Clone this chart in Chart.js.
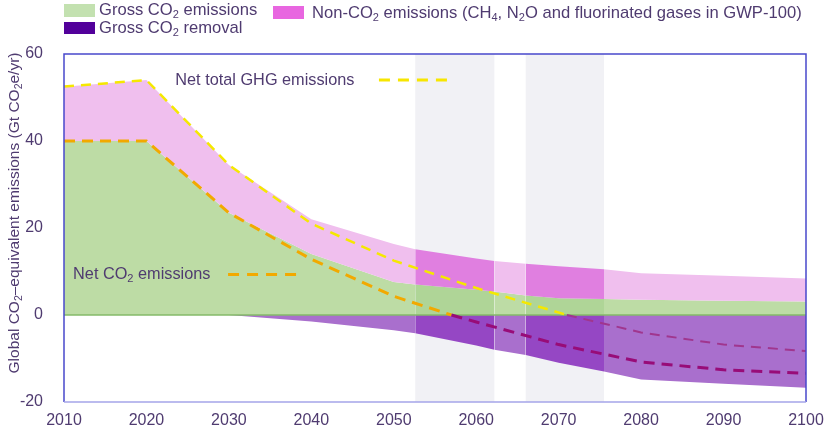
<!DOCTYPE html>
<html>
<head>
<meta charset="utf-8">
<script src="https://cdn.jsdelivr.net/npm/chart.js@4.4.1/dist/chart.umd.min.js"></script>
<style>
  body { margin: 0; background: #fff; font-family: 'Liberation Sans', Arial, sans-serif; }
  #wrap { position: relative; width: 832px; height: 428px; }
  .key { position: absolute; color: #4f3b70; font-size: 16.6px; line-height: 18px; white-space: nowrap; }
  .key i { position: absolute; left: -35px; width: 31px; height: 13px; }
  .key sub { font-size: 11px; vertical-align: -3px; line-height: 0; }
</style>
</head>
<body>
<div id="wrap">
  <canvas id="chart" width="832" height="428"></canvas>
  <div class="key" style="left:99px;top:1px"><i style="top:3px;background:#c3e1b0"></i>Gross CO<sub>2</sub> emissions</div>
  <div class="key" style="left:99px;top:19px"><i style="top:3px;height:12px;background:#52009a"></i>Gross CO<sub>2</sub> removal</div>
  <div class="key" style="left:312px;top:4px"><i style="left:-39px;top:2px;background:#e866e0"></i>Non-CO<sub>2</sub> emissions (CH<sub>4</sub>, N<sub>2</sub>O and fluorinated gases in GWP-100)</div>
</div>
<script>
// area series share one year axis (band edges included)
var years = [2010, 2020, 2030, 2040, 2050, 2052.6, 2060, 2062.2, 2066, 2070, 2075.5, 2080, 2090, 2100];
var grossCO2 = [40, 40, 23.5, 14, 7.6, 7.0, 5.8, 5.4, 4.5, 3.85, 3.7, 3.5, 3.3, 3.1];
var grossTotal = [52.5, 54, 34.5, 22, 16.3, 15.1, 13.0, 12.4, 11.8, 11.2, 10.5, 9.6, 9.0, 8.4];
var removal = [0, 0, 0, -1.5, -3.5, -4.2, -7.0, -8.0, -9.2, -11.0, -13.0, -14.8, -15.8, -16.7];

var netCO2Years = [2010, 2020, 2030, 2040, 2050, 2057, 2060, 2070, 2080, 2090, 2100];
var netCO2 = [40, 40, 23.5, 12.8, 4.3, 0, -1.6, -6.8, -10.8, -12.6, -13.4];
var netGHGYears = [2010, 2020, 2030, 2040, 2050, 2060, 2071, 2080, 2090, 2100];
var netGHG = [52.5, 54, 34.5, 21, 12.5, 6.2, 0, -4, -6.8, -8.3];

var bands = [[2052.6, 2062.2], [2066, 2075.5]];

var textColor = '#4f3b70';
var fontFamily = '"Liberation Sans", Arial, sans-serif';

function pts(xs, ys) {
  return xs.map(function(x, i) { return {x: x, y: ys[i]}; });
}

function inBand(a, b) {
  var m = (a + b) / 2;
  return bands.some(function(bd) { return m > bd[0] && m < bd[1]; });
}

function bandFill(light, dark) {
  return function(ctx) {
    return inBand(ctx.p0.parsed.x, ctx.p1.parsed.x) ? dark : light;
  };
}

function negative(ctx) {
  return ctx.p0.parsed.y <= 0 && ctx.p1.parsed.y <= 0;
}

// text with subscript pieces: [text, isSub]
function richText(ctx, parts, x, y, size, align) {
  var widths = parts.map(function(p) {
    ctx.font = (p[1] ? size * 0.68 : size) + 'px ' + fontFamily;
    return ctx.measureText(p[0]).width;
  });
  var total = widths.reduce(function(s, w) { return s + w; }, 0);
  var cx = align === 'center' ? x - total / 2 : x;
  parts.forEach(function(p, i) {
    ctx.font = (p[1] ? size * 0.68 : size) + 'px ' + fontFamily;
    ctx.fillText(p[0], cx, p[1] ? y + size * 0.28 : y);
    cx += widths[i];
  });
}

var decor = {
  id: 'decor',
  beforeDatasetsDraw: function(chart) {
    var ctx = chart.ctx, x = chart.scales.x, a = chart.chartArea;
    ctx.save();
    ctx.fillStyle = '#f1f1f5';
    bands.forEach(function(bd) {
      var l = x.getPixelForValue(bd[0]), r = x.getPixelForValue(bd[1]);
      ctx.fillRect(l, a.top, r - l, a.bottom - a.top);
    });
    ctx.restore();
  },
  afterDatasetDraw: function(chart, args) {
    if (args.index !== 3) return;
    var ctx = chart.ctx, a = chart.chartArea;
    var y0 = chart.scales.y.getPixelForValue(0);
    ctx.save();
    ctx.strokeStyle = '#84ba68';
    ctx.lineWidth = 1.5;
    ctx.beginPath();
    ctx.moveTo(a.left, y0);
    ctx.lineTo(a.right, y0);
    ctx.stroke();
    ctx.restore();
  },
  afterDatasetsDraw: function(chart) {
    var ctx = chart.ctx, a = chart.chartArea;
    var x = chart.scales.x, y = chart.scales.y;
    ctx.save();
    // frame
    ctx.lineWidth = 1.5;
    ctx.strokeStyle = '#4848cc';
    ctx.beginPath();
    ctx.moveTo(a.left, a.bottom); ctx.lineTo(a.left, a.top); ctx.lineTo(a.right, a.top); ctx.lineTo(a.right, a.bottom);
    ctx.stroke();
    ctx.strokeStyle = '#a4a4e8';
    ctx.beginPath();
    ctx.moveTo(a.left, a.bottom); ctx.lineTo(a.right, a.bottom);
    ctx.stroke();

    // in-chart labels
    ctx.fillStyle = textColor;
    ctx.textBaseline = 'middle';
    ctx.textAlign = 'left';
    richText(ctx, [['Net total GHG emissions', 0]], x.getPixelForValue(2023.5), y.getPixelForValue(54), 16.3, 'left');
    richText(ctx, [['Net CO', 0], ['2', 1], [' emissions', 0]], x.getPixelForValue(2011.1), y.getPixelForValue(9.3), 16.3, 'left');

    ctx.lineWidth = 3;
    ctx.setLineDash([11, 8]);
    ctx.strokeStyle = '#f7e600';
    ctx.beginPath();
    ctx.moveTo(x.getPixelForValue(2048.2), y.getPixelForValue(54));
    ctx.lineTo(x.getPixelForValue(2057.2), y.getPixelForValue(54));
    ctx.stroke();
    ctx.strokeStyle = '#f2a900';
    ctx.beginPath();
    ctx.moveTo(x.getPixelForValue(2029.9), y.getPixelForValue(9.3));
    ctx.lineTo(x.getPixelForValue(2038.6), y.getPixelForValue(9.3));
    ctx.stroke();

    // y-axis title
    ctx.setLineDash([]);
    ctx.translate(15, 213);
    ctx.rotate(-Math.PI / 2);
    richText(ctx, [['Global CO', 0], ['2', 1], ['\u2013equivalent emissions (Gt CO', 0], ['2', 1], ['e/yr)', 0]], 0, 0, 15.5, 'center');
    ctx.restore();
  }
};

new Chart(document.getElementById('chart'), {
  type: 'line',
  data: {
    datasets: [
      {
        label: 'Net total GHG emissions',
        data: pts(netGHGYears, netGHG),
        borderColor: '#f5e800',
        borderWidth: 2.5,
        borderDash: [10, 7],
        fill: false,
        segment: {
          borderColor: function(ctx) { return negative(ctx) ? '#a0368e' : undefined; },
          borderWidth: function(ctx) { return negative(ctx) ? 2 : undefined; }
        }
      },
      {
        label: 'Net CO2 emissions',
        data: pts(netCO2Years, netCO2),
        borderColor: '#f2a900',
        borderWidth: 3,
        borderDash: [11, 7],
        fill: false,
        segment: {
          borderColor: function(ctx) { return negative(ctx) ? '#980c78' : undefined; }
        }
      },
      {
        label: 'Non-CO2 emissions',
        data: pts(years, grossTotal),
        borderWidth: 0,
        backgroundColor: '#f0bfee',
        fill: 3,
        segment: { backgroundColor: bandFill('#f0bfee', '#e07fe0') }
      },
      {
        label: 'Gross CO2 emissions',
        data: pts(years, grossCO2),
        borderWidth: 0,
        backgroundColor: '#bddca5',
        fill: 'origin',
        segment: { backgroundColor: bandFill('#bddca5', '#afd597') }
      },
      {
        label: 'Gross CO2 removal',
        data: pts(years, removal),
        borderWidth: 0,
        backgroundColor: '#a96fcd',
        fill: 'origin',
        segment: { backgroundColor: bandFill('#a96fcd', '#9547c4') }
      }
    ]
  },
  options: {
    responsive: false,
    animation: false,
    layout: { padding: { top: 54, right: 26, left: 0, bottom: 0 } },
    elements: { point: { radius: 0 }, line: { tension: 0 } },
    plugins: {
      legend: { display: false },
      tooltip: { enabled: false }
    },
    scales: {
      x: {
        type: 'linear',
        min: 2010,
        max: 2100,
        grid: { display: false },
        border: { display: false },
        ticks: {
          stepSize: 10,
          color: textColor,
          font: { size: 16, family: fontFamily },
          padding: 1,
          maxRotation: 0,
          callback: function(v) { return String(v); }
        },
        afterFit: function(s) { s.height = 26; }
      },
      y: {
        min: -20,
        max: 60,
        grid: { display: false },
        border: { display: false },
        ticks: {
          stepSize: 20,
          color: textColor,
          font: { size: 16, family: fontFamily },
          padding: 13
        },
        afterFit: function(s) { s.width = 64; }
      }
    }
  },
  plugins: [decor]
});
</script>
</body>
</html>
